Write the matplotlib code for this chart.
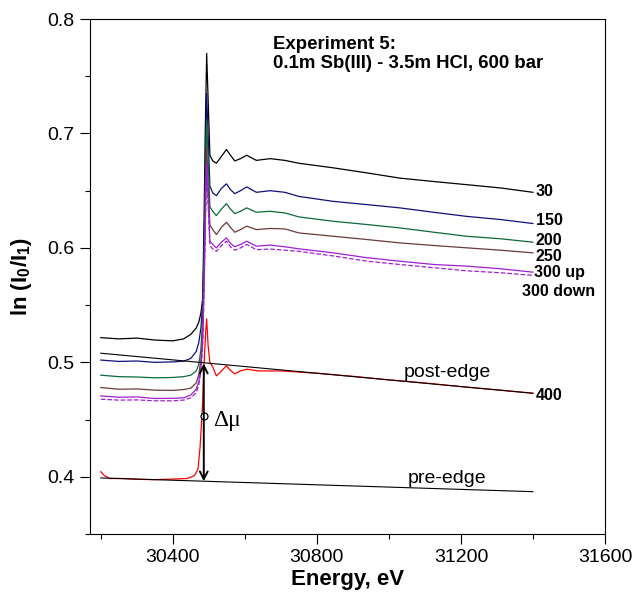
import matplotlib
matplotlib.use("Agg")
import matplotlib.pyplot as plt
from matplotlib.ticker import MultipleLocator

plt.rcParams['font.family'] = 'Liberation Sans'
plt.rcParams['mathtext.fontset'] = 'custom'
plt.rcParams['mathtext.rm'] = 'Liberation Sans'
plt.rcParams['mathtext.bf'] = 'Liberation Sans:bold'

# energy grid shared by the 30..300 C spectra (eV)
energy = [30200, 30250, 30300, 30350, 30400, 30430, 30450, 30465, 30472, 30478,
          30483, 30487, 30490, 30494, 30503, 30511, 30521, 30535, 30549, 30560,
          30572, 30588, 30605, 30632, 30670, 30711, 30750, 30845, 30940, 31030,
          31125, 31215, 31310, 31400]

mu_30 = [0.5216, 0.5205, 0.5212, 0.5195, 0.5188, 0.5205, 0.5245, 0.530, 0.535, 0.543,
         0.556, 0.63, 0.70, 0.770, 0.681, 0.676, 0.674, 0.680, 0.686, 0.681,
         0.676, 0.678, 0.681, 0.6765, 0.678, 0.6765, 0.674, 0.670, 0.6655, 0.661,
         0.658, 0.6553, 0.6524, 0.6486]
mu_150 = [0.502, 0.5008, 0.5012, 0.500, 0.5004, 0.501, 0.5035, 0.5095, 0.517, 0.530,
          0.552, 0.60, 0.66, 0.735, 0.654, 0.648, 0.6457, 0.652, 0.656, 0.651,
          0.6474, 0.650, 0.6533, 0.6486, 0.650, 0.6486, 0.645, 0.6407, 0.6378, 0.635,
          0.6311, 0.6276, 0.6248, 0.6213]
mu_200 = [0.4888, 0.4875, 0.4872, 0.4865, 0.4868, 0.4875, 0.4888, 0.4925, 0.498, 0.511,
          0.540, 0.59, 0.65, 0.712, 0.636, 0.632, 0.6282, 0.634, 0.6387, 0.634,
          0.630, 0.632, 0.635, 0.6312, 0.632, 0.6306, 0.6271, 0.6233, 0.6204, 0.6175,
          0.6137, 0.6102, 0.608, 0.605]
mu_250 = [0.478, 0.4765, 0.4768, 0.4757, 0.4755, 0.4762, 0.4775, 0.482, 0.489, 0.502,
          0.530, 0.58, 0.64, 0.688, 0.620, 0.616, 0.6117, 0.618, 0.6224, 0.618,
          0.6137, 0.616, 0.619, 0.616, 0.617, 0.6166, 0.6131, 0.6102, 0.6073, 0.6044,
          0.6021, 0.6001, 0.598, 0.5957]
mu_300up = [0.4707, 0.4695, 0.4698, 0.4684, 0.4686, 0.469, 0.4715, 0.4766, 0.483, 0.495,
            0.520, 0.57, 0.62, 0.674, 0.606, 0.603, 0.600, 0.605, 0.6088, 0.604,
            0.601, 0.603, 0.6059, 0.6015, 0.6025, 0.601, 0.5992, 0.5957, 0.5914, 0.5884,
            0.5855, 0.5841, 0.5818, 0.5788]
mu_300down = [0.4678, 0.467, 0.4672, 0.4664, 0.4664, 0.467, 0.469, 0.4735, 0.480, 0.492,
              0.515, 0.565, 0.615, 0.668, 0.602, 0.599, 0.597, 0.602, 0.6059, 0.601,
              0.598, 0.600, 0.603, 0.5985, 0.599, 0.598, 0.597, 0.593, 0.5884, 0.5855,
              0.5827, 0.580, 0.5783, 0.576]

# 400 C spectrum has its own grid
energy_400 = [30200, 30210, 30225, 30260, 30300, 30350, 30400, 30440, 30460, 30470,
              30476, 30482, 30487, 30491, 30494, 30498, 30503, 30510, 30521, 30535,
              30549, 30560, 30572, 30588, 30605, 30640, 30700, 30800, 30900, 31000,
              31100, 31200, 31300, 31400]
mu_400 = [0.4044, 0.401, 0.3985, 0.3985, 0.3978, 0.3975, 0.398, 0.3985, 0.401, 0.4068,
          0.4271, 0.46, 0.50, 0.525, 0.538, 0.515, 0.4998, 0.4966, 0.4882, 0.4925,
          0.497, 0.493, 0.490, 0.4925, 0.494, 0.4925, 0.4925, 0.4905, 0.4878, 0.4847,
          0.482, 0.4788, 0.476, 0.473]

# linear pre-edge / post-edge fits
fit_energy = [30200, 31400]
post_edge = [0.508, 0.473]
pre_edge = [0.399, 0.387]

edge_energy = 30486
step_bottom = 0.396
step_top = 0.499
step_mid = 0.453

spectra = [mu_30, mu_150, mu_200, mu_250, mu_300up, mu_300down]
colors = ['black', '#10107a', '#0b6b3c', '#6b3b3b', '#a020d0', '#a020d0']
styles = ['-', '-', '-', '-', '-', '--']
labels = ['30', '150', '200', '250', '300 up', '300 down', '400']
label_E = [31408, 31408, 31408, 31408, 31403, 31369, 31408]
label_mu = [0.6492, 0.6239, 0.6065, 0.5925, 0.5786, 0.562, 0.4713]

fig = plt.figure(figsize=(6.35, 5.95), dpi=100)
ax = fig.add_axes([0.1417, 0.1025, 0.811, 0.8655])

for mu, c, ls in zip(spectra, colors, styles):
    ax.plot(energy, mu, color=c, ls=ls, lw=0.9)
ax.plot(energy_400, mu_400, color='red', lw=0.9)

ax.plot(fit_energy, post_edge, color='black', lw=0.8)
ax.plot(fit_energy, pre_edge, color='black', lw=0.8)

ax.annotate('', xy=(edge_energy, step_top), xytext=(edge_energy, step_bottom),
            arrowprops=dict(arrowstyle='<->', lw=1.4, color='black',
                            shrinkA=0, shrinkB=0, mutation_scale=14))
ax.plot([edge_energy], [step_mid], 'o', mfc='white', mec='black', ms=5, mew=0.9)
ax.text(30511, 0.4495, '\u0394\u03bc', family='Liberation Serif', fontsize=17,
        ha='left', va='center')

ax.text(31161, 0.4914, 'post-edge', fontsize=14, ha='center', va='center')
ax.text(31161, 0.3986, 'pre-edge', fontsize=14, ha='center', va='center')

for lab, x, y in zip(labels, label_E, label_mu):
    ax.text(x, y, lab, fontsize=11.5, fontweight='bold', ha='left', va='center')

ax.text(0.355, 0.968, 'Experiment 5:\n0.1m Sb(III) - 3.5m HCl, 600 bar',
        transform=ax.transAxes, fontsize=13.4, fontweight='bold',
        ha='left', va='top', linespacing=1.2)

ax.set_xlim(30170, 31600)
ax.set_ylim(0.35, 0.8)
ax.xaxis.set_major_locator(MultipleLocator(400))
ax.xaxis.set_minor_locator(MultipleLocator(200))
ax.yaxis.set_major_locator(MultipleLocator(0.1))
ax.yaxis.set_minor_locator(MultipleLocator(0.05))
ax.tick_params(which='major', length=7, width=0.8, labelsize=14, pad=4)
ax.tick_params(which='minor', length=3.6, width=0.8)
for s in ax.spines.values():
    s.set_linewidth(0.8)

ax.set_xlabel('Energy, eV', fontsize=16, fontweight='bold', labelpad=2)
ax.set_ylabel(r'ln (I$_\mathbf{0}$/I$_\mathbf{1}$)', fontsize=16,
              fontweight='bold', labelpad=10)

fig.savefig('out.png', dpi=100)
